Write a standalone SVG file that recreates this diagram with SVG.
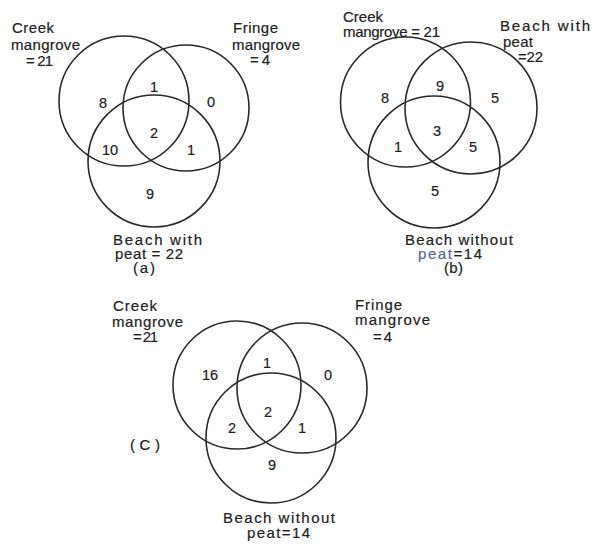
<svg xmlns="http://www.w3.org/2000/svg" width="593" height="544" viewBox="0 0 593 544">
<style>
.c{fill:none;stroke:#2a2a2a;stroke-width:1.6}
.t{font-family:"Liberation Sans",Arial,sans-serif;font-size:15px;fill:#222;stroke:#222;stroke-width:0.2}
.n{font-family:"Liberation Sans",Arial,sans-serif;font-size:14.5px;fill:#222;stroke:#222;stroke-width:0.2;text-anchor:middle}
</style>
<rect width="593" height="544" fill="#fff"/>
<g id="diagram-a">
  <g id="a-creek"><circle class="c" cx="124" cy="101" r="65"/>
    <text class="t" x="12" y="33" textLength="42" lengthAdjust="spacing">Creek</text>
    <text class="t" x="11" y="50" textLength="69" lengthAdjust="spacing">mangrove</text>
    <text class="t" x="26" y="66" textLength="27" lengthAdjust="spacing">= 21</text></g>
  <g id="a-fringe"><circle class="c" cx="186" cy="108" r="63"/>
    <text class="t" x="233" y="33" textLength="45" lengthAdjust="spacing">Fringe</text>
    <text class="t" x="232" y="50" textLength="68" lengthAdjust="spacing">mangrove</text>
    <text class="t" x="250" y="65" textLength="20" lengthAdjust="spacing">= 4</text></g>
  <g id="a-beach"><circle class="c" cx="154" cy="161" r="66"/>
    <text class="t" x="113" y="245" textLength="89" lengthAdjust="spacing">Beach with</text>
    <text class="t" x="115" y="259" textLength="68" lengthAdjust="spacing">peat = 22</text>
    <text class="t" x="133" y="273" textLength="22" lengthAdjust="spacing">(a)</text></g>
  <g id="a-counts">
    <text class="n" x="103" y="108">8</text><text class="n" x="154" y="92">1</text><text class="n" x="211" y="107">0</text>
    <text class="n" x="154" y="138">2</text><text class="n" x="110" y="155">10</text><text class="n" x="191" y="155">1</text>
    <text class="n" x="150" y="199">9</text></g>
</g>
<g id="diagram-b">
  <g id="b-creek"><circle class="c" cx="405.5" cy="102" r="65"/>
    <text class="t" x="343" y="22" textLength="40" lengthAdjust="spacing">Creek</text>
    <text class="t" x="343" y="37" textLength="97" lengthAdjust="spacing">mangrove = 21</text></g>
  <g id="b-beachpeat"><circle class="c" cx="471" cy="108" r="66"/>
    <text class="t" x="500" y="31" textLength="90" lengthAdjust="spacing">Beach with</text>
    <text class="t" x="503" y="47" textLength="30" lengthAdjust="spacing">peat</text>
    <text class="t" x="518" y="62" textLength="25" lengthAdjust="spacing">=22</text></g>
  <g id="b-beachnopeat"><circle class="c" cx="434" cy="162" r="66"/>
    <text class="t" x="405" y="245" textLength="108" lengthAdjust="spacing">Beach without</text>
    <text class="t" x="418" y="259" textLength="64" lengthAdjust="spacing"><tspan fill="#5d62a0" stroke="#5d62a0">peat</tspan>=14</text>
    <text class="t" x="444" y="273" textLength="19" lengthAdjust="spacing">(b)</text></g>
  <g id="b-counts">
    <text class="n" x="385" y="103">8</text><text class="n" x="440" y="91">9</text><text class="n" x="495" y="103">5</text>
    <text class="n" x="437" y="136">3</text><text class="n" x="398" y="152">1</text><text class="n" x="473" y="152">5</text>
    <text class="n" x="435" y="196">5</text></g>
</g>
<g id="diagram-c">
  <g id="c-creek"><circle class="c" cx="237" cy="385" r="64"/>
    <text class="t" x="113" y="311" textLength="44" lengthAdjust="spacing">Creek</text>
    <text class="t" x="112" y="327" textLength="71" lengthAdjust="spacing">mangrove</text>
    <text class="t" x="133" y="342" textLength="25" lengthAdjust="spacing">= 21</text></g>
  <g id="c-fringe"><circle class="c" cx="302" cy="388" r="65"/>
    <text class="t" x="355" y="310" textLength="47" lengthAdjust="spacing">Fringe</text>
    <text class="t" x="355" y="325" textLength="75" lengthAdjust="spacing">mangrove</text>
    <text class="t" x="373" y="342" textLength="19" lengthAdjust="spacing">= 4</text></g>
  <g id="c-beach"><circle class="c" cx="271" cy="438" r="65"/>
    <text class="t" x="223" y="523" textLength="112" lengthAdjust="spacing">Beach without</text>
    <text class="t" x="247" y="538" textLength="63" lengthAdjust="spacing">peat=14</text></g>
  <g id="c-counts">
    <text class="n" x="210" y="380">16</text><text class="n" x="267" y="368">1</text><text class="n" x="328" y="380">0</text>
    <text class="n" x="268" y="417">2</text><text class="n" x="232" y="433">2</text><text class="n" x="302" y="433">1</text>
    <text class="n" x="272" y="470">9</text>
    <text class="t" x="130" y="450" textLength="30" lengthAdjust="spacing">( C )</text></g>
</g>
</svg>
